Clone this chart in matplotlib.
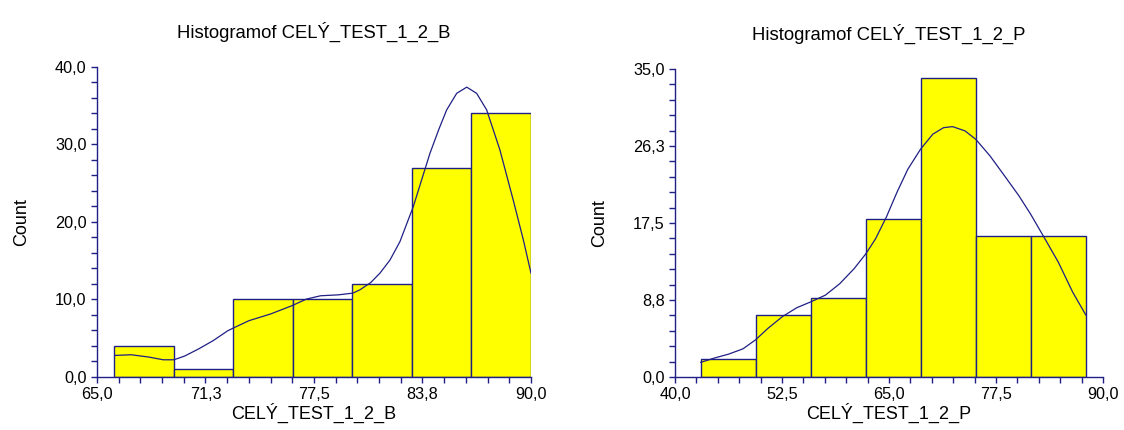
import matplotlib
matplotlib.use("Agg")
import matplotlib.pyplot as plt
from matplotlib.ticker import MultipleLocator

plt.rcParams["font.family"] = ["Liberation Sans", "DejaVu Sans"]

NAVY = "#1f1f85"
YELLOW = "#ffff00"

# left histogram: CELÝ_TEST_1_2_B
b_edges = [66.0, 69.43, 72.86, 76.29, 79.71, 83.14, 86.57, 90.0]
b_counts = [4, 1, 10, 10, 12, 27, 34]
b_curve_x = [66.03, 66.96, 67.99, 68.81, 69.43, 70.05, 70.87, 71.7, 72.52, 72.93,
             73.76, 75.0, 76.23, 77.06, 77.88, 78.91, 79.74, 80.15, 80.77, 81.3,
             81.88, 82.45, 83.22, 83.78, 84.18, 84.7, 85.14, 85.72, 86.3, 86.87,
             87.45, 88.21, 88.98, 89.56, 90.0]
b_curve_y = [2.78, 2.87, 2.57, 2.22, 2.22, 2.7, 3.64, 4.7, 5.95, 6.4,
             7.27, 8.13, 9.2, 10.05, 10.48, 10.6, 10.82, 11.25, 12.19, 13.4,
             15.1, 17.46, 21.98, 26.0, 28.86, 32.0, 34.45, 36.6, 37.4, 36.6,
             34.45, 29.3, 22.8, 17.7, 13.4]
b_xticks = [65.0, 71.25, 77.5, 83.75, 90.0]
b_xlabels = ["65,0", "71,3", "77,5", "83,8", "90,0"]
b_yticks = [0, 10, 20, 30, 40]
b_ylabels = ["0,0", "10,0", "20,0", "30,0", "40,0"]

# right histogram: CELÝ_TEST_1_2_P
p_edges = [43.0, 49.43, 55.86, 62.29, 68.71, 75.14, 81.57, 88.0]
p_counts = [2, 7, 9, 18, 34, 16, 16]
p_curve_x = [43.01, 44.6, 46.28, 47.95, 49.41, 50.88, 52.55, 54.23, 55.9, 57.57,
             59.25, 60.92, 62.3, 63.43, 64.69, 65.94, 67.2, 68.7, 70.13, 71.38,
             72.43, 73.89, 75.15, 76.82, 78.49, 80.17, 81.55, 83.1, 84.77, 86.44,
             87.99]
p_curve_y = [1.66, 2.15, 2.6, 3.2, 4.22, 5.54, 6.86, 7.87, 8.55, 9.3,
             10.6, 12.3, 14.0, 15.7, 18.16, 21.0, 23.6, 25.9, 27.6, 28.33,
             28.45, 27.96, 27.0, 25.1, 22.87, 20.6, 18.5, 15.9, 13.07, 9.68,
             7.05]
p_xticks = [40.0, 52.5, 65.0, 77.5, 90.0]
p_xlabels = ["40,0", "52,5", "65,0", "77,5", "90,0"]
p_yticks = [0, 8.75, 17.5, 26.25, 35]
p_ylabels = ["0,0", "8,8", "17,5", "26,3", "35,0"]


def draw_hist(ax, edges, counts, cx, cy, xlim, ylim, xticks, xlabels, yticks, ylabels,
              xminor, yminor, name):
    widths = [edges[i + 1] - edges[i] for i in range(len(counts))]
    ax.bar(edges[:-1], counts, width=widths, align="edge", color=YELLOW,
           edgecolor=NAVY, linewidth=1.0, zorder=2)
    ax.plot(cx, cy, color=NAVY, linewidth=0.9, zorder=3)
    ax.set_xlim(*xlim)
    ax.set_ylim(*ylim)
    ax.set_xticks(xticks)
    ax.set_xticklabels(xlabels)
    ax.set_yticks(yticks)
    ax.set_yticklabels(ylabels)
    ax.xaxis.set_minor_locator(MultipleLocator(xminor))
    ax.yaxis.set_minor_locator(MultipleLocator(yminor))
    for s in ["top", "right"]:
        ax.spines[s].set_visible(False)
    for s in ["left", "bottom"]:
        ax.spines[s].set_color(NAVY)
        ax.spines[s].set_linewidth(1.0)
    ax.tick_params(which="both", direction="out", color=NAVY, width=1.0,
                   labelsize=11.7, labelcolor="black", pad=3)
    ax.tick_params(which="major", length=4.5)
    ax.tick_params(which="minor", length=4.0)
    ax.set_xlabel(name, fontsize=13, labelpad=0)
    ax.set_ylabel("Count", fontsize=13, labelpad=18)
    ax.set_title("Histogramof " + name, fontsize=13.3, pad=21)


fig = plt.figure(figsize=(11.24, 4.30), dpi=100)
ax1 = fig.add_axes([0.0863, 0.1233, 0.3861, 0.7209])
ax2 = fig.add_axes([0.6005, 0.1233, 0.3808, 0.7163])

draw_hist(ax1, b_edges, b_counts, b_curve_x, b_curve_y, (65, 90), (0, 40),
          b_xticks, b_xlabels, b_yticks, b_ylabels, 1.25, 2.0, "CELÝ_TEST_1_2_B")
draw_hist(ax2, p_edges, p_counts, p_curve_x, p_curve_y, (40, 90), (0, 35),
          p_xticks, p_xlabels, p_yticks, p_ylabels, 2.5, 1.75, "CELÝ_TEST_1_2_P")

fig.savefig("out.png", dpi=100)
